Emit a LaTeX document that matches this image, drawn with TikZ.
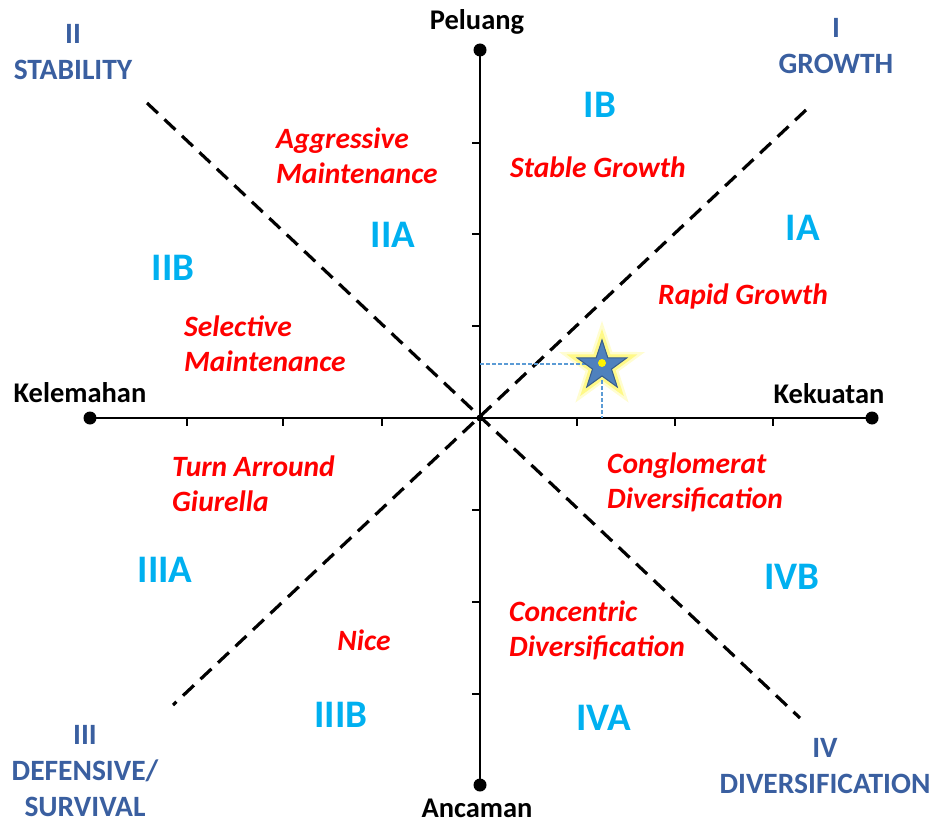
\documentclass[tikz,border=0pt]{standalone}
\usepackage{fontspec}
\setmainfont{Carlito}
\usetikzlibrary{shapes.geometric}
\definecolor{dkblue}{HTML}{3A5FA0}
\definecolor{ltblue}{HTML}{00B0F0}
\definecolor{redtxt}{HTML}{FF0000}
\definecolor{starfill}{HTML}{4F81BD}
\definecolor{starline}{HTML}{385D8A}
\definecolor{guide}{HTML}{5B9BD5}
\tikzset{
  axisdot/.style={circle,fill=black,inner sep=0pt,minimum size=13pt},
  axislbl/.style={font=\fontsize{28.5}{32}\selectfont\bfseries,text=black,inner sep=0pt},
  quadlbl/.style={font=\fontsize{29.5}{36}\selectfont\bfseries,text=dkblue,align=center,inner sep=0pt},
  sublbl/.style={font=\fontsize{39}{42}\selectfont\bfseries,text=ltblue,inner sep=0pt},
  strat/.style={font=\fontsize{29.5}{35}\selectfont\bfseries\itshape,text=redtxt,align=left,inner sep=0pt,anchor=west},
  diag/.style={line width=3.2pt,dash pattern=on 15pt off 9pt,black},
  axisline/.style={line width=1.8pt,black},
  tickmark/.style={line width=1.2pt,black},
  guideline/.style={guide,line width=1.2pt,dash pattern=on 4pt off 2pt},
  markstar/.style={star,star points=5,star point ratio=2.6,minimum size=52pt,inner sep=0pt}
}
\begin{document}
\begin{tikzpicture}[x=1pt,y=-1pt]
\useasboundingbox (0,0) rectangle (934,824);
% diagonals
\coordinate (d1a) at (147,103);
\coordinate (d1b) at (800,718);
\coordinate (d2a) at (806,110);
\coordinate (d2b) at (173,705);
\draw[diag] (d1a) -- (d1b);
\draw[diag] (d2a) -- (d2b);
% axes
\node[axisdot] (top) at (480,50) {};
\node[axisdot] (bot) at (480,785) {};
\node[axisdot] (lft) at (90,418) {};
\node[axisdot] (rgt) at (872,418) {};
\coordinate (ctr) at (480,418);
\draw[axisline] (lft.center) -- (rgt.center);
\draw[axisline] (top.center) -- (bot.center);
\fill (ctr) circle (3.5pt);
% ticks
\foreach \x in {187,283,382,577,675,773} \draw[tickmark] (\x,418) -- (\x,426);
\foreach \y in {143,234,326,510,602,694} \draw[tickmark] (480,\y) -- (472,\y);
% axis labels
\node[axislbl] (peluang) at (477,22) {Peluang};
\node[axislbl] (ancaman) at (477,808) {Ancaman};
\node[axislbl] (kelemahan) at (80,393) {Kelemahan};
\node[axislbl] (kekuatan) at (829,394) {Kekuatan};
% quadrant labels
\node[quadlbl] (q2) at (73,52) {II\\STABILITY};
\node[quadlbl] (q1) at (836,46) {I\\GROWTH};
\node[quadlbl] (q3) at (85,771) {III\\DEFENSIVE/\\SURVIVAL};
\node[quadlbl] (q4) at (825,766) {IV\\DIVERSIFICATION};
% sub labels
\node[sublbl] (IB) at (600,105) {IB};
\node[sublbl] (IA) at (803,228) {IA};
\node[sublbl] (IIA) at (393,235) {IIA};
\node[sublbl] (IIB) at (173,268) {IIB};
\node[sublbl] (IIIA) at (165,570) {IIIA};
\node[sublbl] (IIIB) at (341,715) {IIIB};
\node[sublbl] (IVA) at (604,718) {IVA};
\node[sublbl] (IVB) at (792,577) {IVB};
% strategies
\node[strat] (aggr) at (276,156) {Aggressive\\Maintenance};
\node[strat,anchor=center] (stable) at (598,167) {Stable Growth};
\node[strat,anchor=center] (rapid) at (743,296) {Rapid Growth};
\node[strat] (sel) at (184,344) {Selective\\Maintenance};
\node[strat] (turn) at (172,484) {Turn Arround\\Giurella};
\node[strat] (cong) at (607,482) {Conglomerat\\Diversification};
\node[strat] (conc) at (509,630) {Concentric\\Diversification};
\node[strat,anchor=center] (nice) at (364,640) {Nice};
% position marker
\coordinate (hx) at (480,364);
\coordinate (vx) at (602,418);
\node[markstar,draw=yellow,line width=12pt,opacity=0.18] (glow2) at (602,366) {};
\node[markstar,draw=yellow,line width=7pt,opacity=0.35] (glow) at (602,366) {};
\draw[guideline] (hx) -- (590,364);
\draw[guideline] (602,380) -- (vx);
\node[markstar,fill=starfill,draw=starline,line width=1pt] (mark) at (602,366) {};
\fill[yellow] (602,363) circle (4pt);
\end{tikzpicture}
\end{document}
